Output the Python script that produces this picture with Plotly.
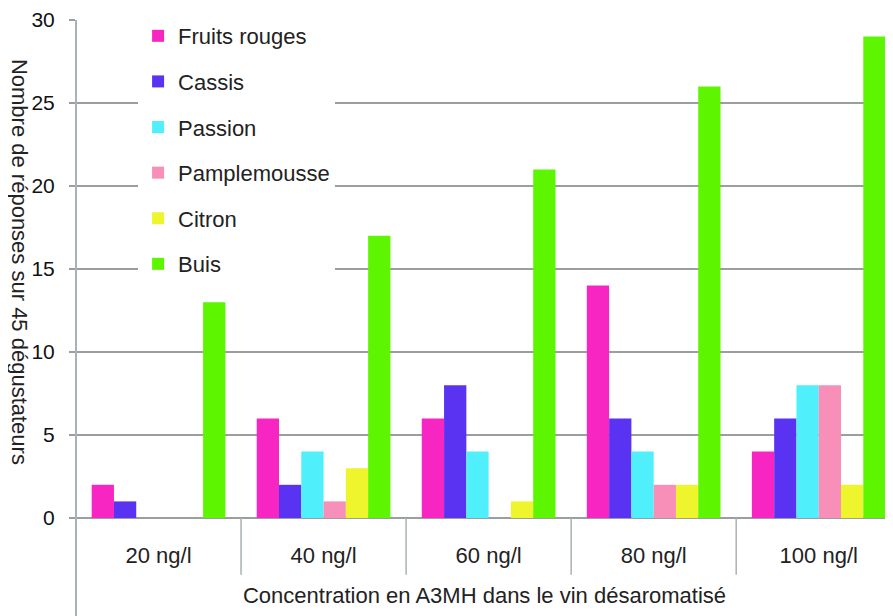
import plotly.graph_objects as go

categories = ["20 ng/l", "40 ng/l", "60 ng/l", "80 ng/l", "100 ng/l"]
series_names = ["Fruits rouges", "Cassis", "Passion", "Pamplemousse", "Citron", "Buis"]
fruits_rouges = [2, 6, 6, 14, 4]
cassis = [1, 2, 8, 6, 6]
passion = [0, 4, 4, 4, 8]
pamplemousse = [0, 1, 0, 2, 8]
citron = [0, 3, 1, 2, 2]
buis = [13, 17, 21, 26, 29]
colors = ["#f726c2", "#5a33f2", "#4ff0fb", "#f78fb9", "#eef52c", "#5ef500"]
y_ticks = [0, 5, 10, 15, 20, 25, 30]

values = [fruits_rouges, cassis, passion, pamplemousse, citron, buis]
FONT = "Liberation Sans, Arial, sans-serif"

fig = go.Figure()
for i, (name, vals, col) in enumerate(zip(series_names, values, colors)):
    fig.add_trace(go.Bar(x=categories, y=vals, name=name, marker_color=col,
                         marker_line_width=0, legendgroup=f"g{i}"))

# category divider ticks below axis
for k in range(len(categories) - 1):
    fig.add_shape(type="line", xref="x", yref="paper", x0=k + 0.5, x1=k + 0.5,
                  y0=0, y1=-0.114, line=dict(color="#a9b1b4", width=1.5))
# y-axis line extending to bottom
fig.add_shape(type="line", xref="paper", yref="paper", x0=0, x1=0, y0=1, y1=-0.2,
              line=dict(color="#a6b4ba", width=2))

fig.add_annotation(text="Nombre de réponses sur 45 dégustateurs", textangle=90,
                   xref="paper", yref="paper", x=-0.069, y=0.515, xanchor="center",
                   yanchor="middle", showarrow=False,
                   font=dict(family=FONT, size=22, color="#222"))

fig.update_layout(
    width=885, height=608,
    margin=dict(l=68, r=0, t=9, b=98),
    paper_bgcolor="white", plot_bgcolor="white",
    barmode="group", bargap=0.19, bargroupgap=0,
    font=dict(family=FONT, size=22, color="#222"),
    showlegend=True,
    legend=dict(x=0.076, y=1.01, xanchor="left", yanchor="top", bgcolor="white",
                font=dict(family=FONT, size=22, color="#222"),
                tracegroupgap=14, traceorder="grouped", itemwidth=30),
    xaxis=dict(range=[-0.5, 4.45], showgrid=False, showline=False, ticks="",
               tickfont=dict(size=22), ticklabelstandoff=22,
               title=dict(text="Concentration en A3MH dans le vin désaromatisé",
                          font=dict(size=22), standoff=20)),
    yaxis=dict(range=[0, 30], tickvals=y_ticks, showgrid=True, gridcolor="#9a9e9f",
               gridwidth=1.5, zeroline=True, zerolinecolor="#9a9e9f", zerolinewidth=1.5,
               showline=False, ticks="outside", ticklen=6, tickcolor="#9a9e9f",
               tickwidth=1.5, tickfont=dict(size=21, color="#111"), ticklabelstandoff=10,
               ticklabeloverflow="allow"),
)

fig.write_html("out.html")
